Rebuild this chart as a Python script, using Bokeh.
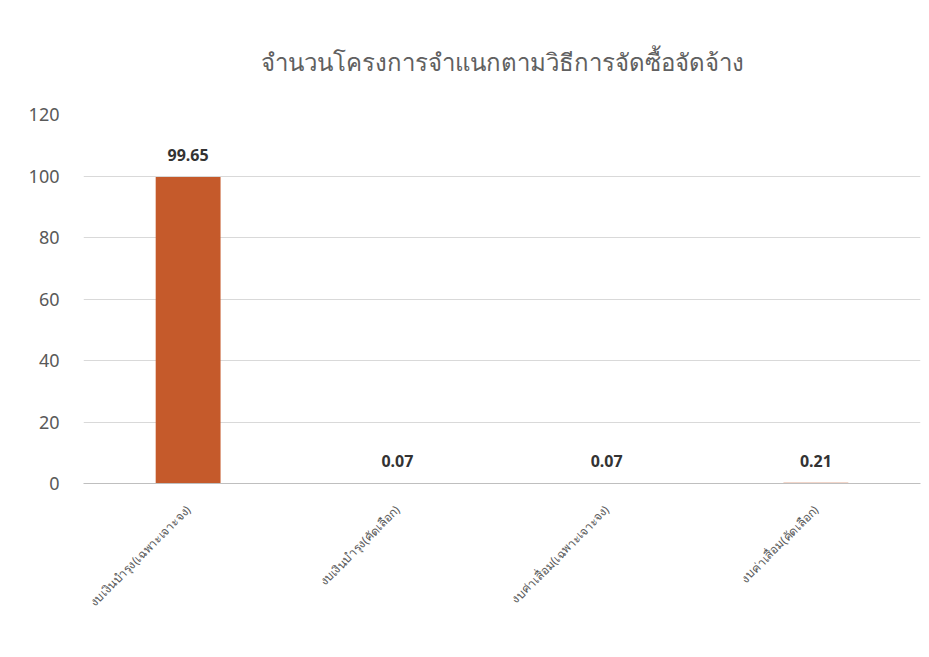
import math
from bokeh.plotting import figure
from bokeh.models import ColumnDataSource, Range1d, LabelSet, FixedTicker
from bokeh.core.properties import value
from bokeh.embed import file_html
from bokeh.resources import INLINE

title_text = "จำนวนโครงการจำแนกตามวิธีการจัดซื้อจัดจ้าง"
categories = ["งบเงินบำรุง(เฉพาะเจาะจง)", "งบเงินบำรุง(คัดเลือก)",
              "งบค่าเสื่อม(เฉพาะเจาะจง)", "งบค่าเสื่อม(คัดเลือก)"]
values = [99.65, 0.07, 0.07, 0.21]
labels = ["99.65", "0.07", "0.07", "0.21"]
y_ticks = [0, 20, 40, 60, 80, 100, 120]

FONT = "Noto Sans"

src = ColumnDataSource(dict(cat=categories, val=values, lab=labels))

p = figure(x_range=categories, y_range=Range1d(0, 120), width=929, height=657,
           output_backend="svg", toolbar_location=None,
           min_border_left=83, min_border_right=9, min_border_top=114, min_border_bottom=174)

p.title.text = title_text
p.title.align = "center"
p.title.text_font = FONT
p.title.text_font_size = "24px"
p.title.text_font_style = "normal"
p.title.text_color = "#606060"
p.title.standoff = 73

p.vbar(x="cat", top="val", width=0.31, source=src, color="#C55A2B", line_color=None)

p.add_layout(LabelSet(x="cat", y="val", text="lab", source=src, text_align="center",
                      text_baseline="bottom", y_offset=16, text_font_size="16px",
                      text_font_style="bold", text_color="#333333", text_font=value(FONT)))

p.yaxis.ticker = FixedTicker(ticks=y_ticks)
p.yaxis.axis_line_color = None
p.yaxis.major_tick_line_color = None
p.yaxis.minor_tick_line_color = None
p.yaxis.major_label_text_font_size = "18px"
p.yaxis.major_label_text_color = "#595959"
p.yaxis.major_label_text_font = FONT
p.yaxis.major_label_standoff = 18

p.xaxis.axis_line_color = "#bfbfbf"
p.xaxis.major_tick_line_color = None
p.xaxis.minor_tick_line_color = None
p.xaxis.major_label_orientation = math.pi / 4
p.xaxis.major_label_text_font_size = "12px"
p.xaxis.major_label_text_color = "#595959"
p.xaxis.major_label_text_font = FONT
p.xaxis.major_label_standoff = 18

p.xgrid.grid_line_color = None
p.ygrid.grid_line_color = "#d9d9d9"
p.outline_line_color = None
p.x_range.range_padding = 0.0

open("out.html", "w").write(file_html(p, INLINE))
